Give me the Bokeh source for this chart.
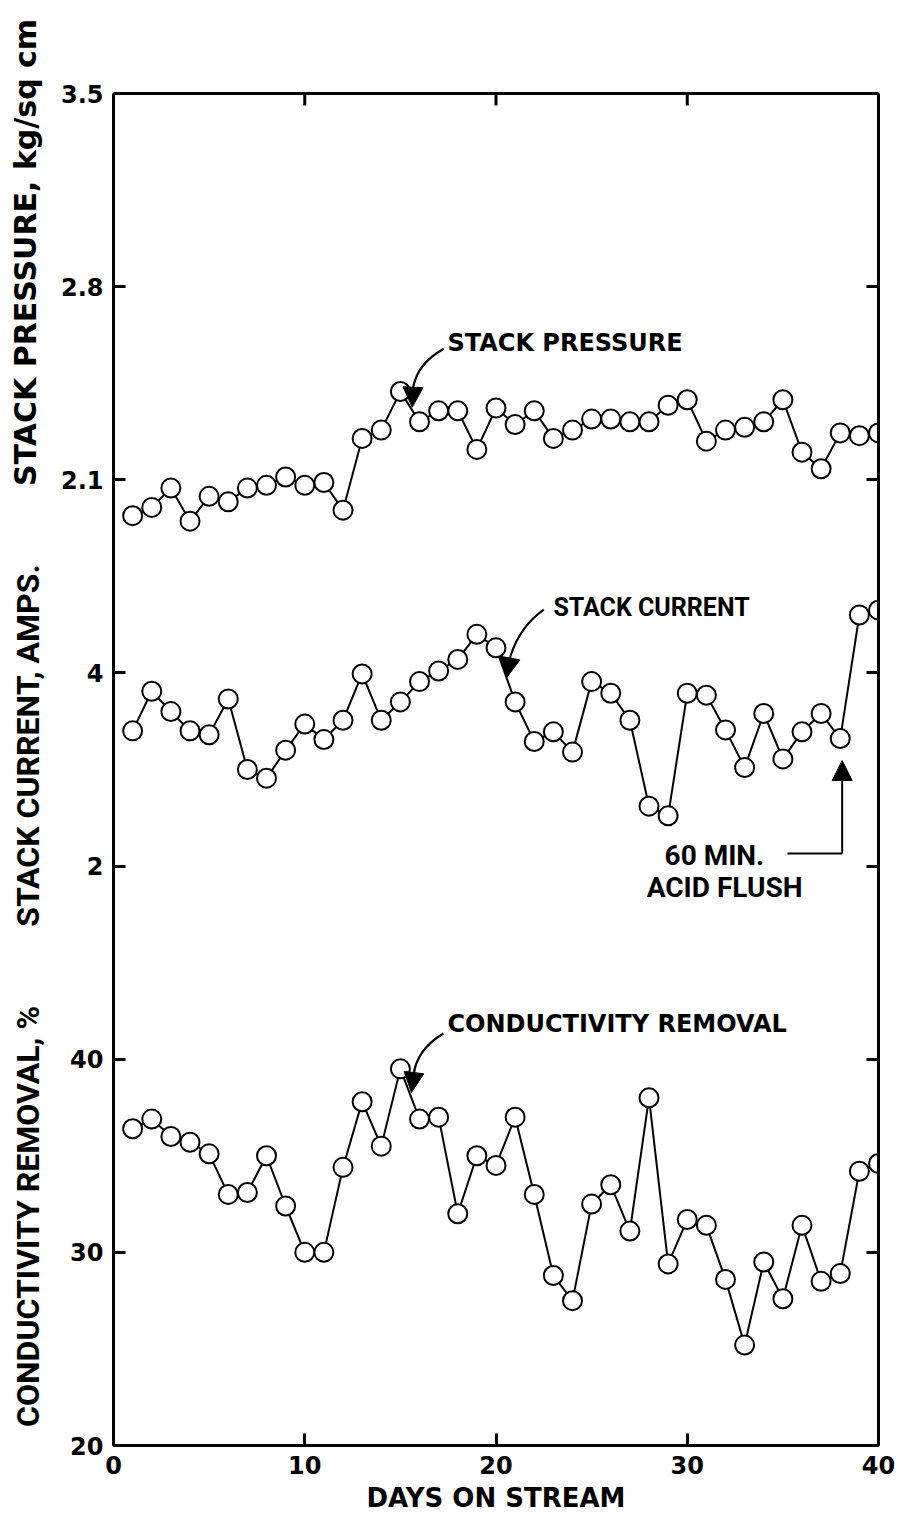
import math
from bokeh.plotting import figure
from bokeh.layouts import row
from bokeh.models import (Range1d, LinearAxis, FixedTicker, Label, Arrow, Span,
                          NormalHead, ColumnDataSource)
from bokeh.embed import file_html
from bokeh.resources import INLINE

# ---------------- data ----------------
days = list(range(1, 41))
stack_pressure = [1.97, 2.00, 2.07, 1.95, 2.04, 2.02, 2.07, 2.08, 2.11, 2.08,
                  2.09, 1.99, 2.25, 2.28, 2.42, 2.31, 2.35, 2.35, 2.21, 2.36,
                  2.30, 2.35, 2.25, 2.28, 2.32, 2.32, 2.31, 2.31, 2.37, 2.39,
                  2.24, 2.28, 2.29, 2.31, 2.39, 2.20, 2.14, 2.27, 2.26, 2.27]
stack_current = [3.40, 3.81, 3.60, 3.40, 3.36, 3.73, 3.00, 2.91, 3.20, 3.47,
                 3.31, 3.51, 3.99, 3.51, 3.70, 3.91, 4.02, 4.14, 4.40, 4.26,
                 3.70, 3.29, 3.39, 3.18, 3.91, 3.79, 3.51, 2.62, 2.52, 3.79,
                 3.77, 3.41, 3.02, 3.58, 3.11, 3.39, 3.58, 3.32, 4.60, 4.65]
conductivity_removal = [36.4, 36.9, 36.0, 35.7, 35.1, 33.0, 33.1, 35.0, 32.4, 30.0,
                        30.0, 34.4, 37.8, 35.5, 39.5, 36.9, 37.0, 32.0, 35.0, 34.5,
                        37.0, 33.0, 28.8, 27.5, 32.5, 33.5, 31.1, 38.0, 29.4, 31.7,
                        31.4, 28.6, 25.2, 29.5, 27.6, 31.4, 28.5, 28.9, 34.2, 34.6]

x_ticks = [0, 10, 20, 30, 40]
x_inner_ticks = [10, 20, 30]
pressure_ticks = [2.1, 2.8, 3.5]
pressure_tick_labels = ["2.1", "2.8", "3.5"]
current_ticks = [2, 4]
current_tick_labels = ["2", "4"]
conductivity_ticks = [20, 30, 40]
conductivity_tick_labels = ["20", "30", "40"]

# ---------------- layout constants ----------------
N_SLOTS = 7            # the box holds 7 equal tick steps
BOX_H = 1352           # height of the boxed area in px
TOP_PAD = 93           # blank strip above the box (part of the frame)
FRAME_H = BOX_H + TOP_PAD
BOT_B = 79
SIDE_W = 48
TOP_SLOT = N_SLOTS * FRAME_H / BOX_H
PX = N_SLOTS / BOX_H   # one pixel in slot units

# series scales: (value at bottom of box, value per slot step)
pressure_scale = (-1.4, 0.7)
current_scale = (-4.0, 2.0)
conductivity_scale = (20.0, 10.0)


def make_range(scale):
    lo, step = scale
    return Range1d(lo, lo + TOP_SLOT * step)


def slot(v, scale):
    lo, step = scale
    return round((v - lo) / step, 6)


FONT = "DejaVu Sans"
FONT2 = "Roboto"

p = figure(frame_width=765, frame_height=FRAME_H, title=None,
           min_border_left=113 - SIDE_W, min_border_right=25,
           min_border_top=0, min_border_bottom=BOT_B,
           x_range=Range1d(0, 40), y_range=Range1d(0, TOP_SLOT),
           x_axis_type=None, y_axis_type=None,
           output_backend="svg", toolbar_location=None,
           background_fill_color="white", border_fill_color="white")
p.outline_line_color = None
p.extra_y_ranges = {"pressure": make_range(pressure_scale),
                    "current": make_range(current_scale),
                    "cond": make_range(conductivity_scale)}

side = figure(frame_width=SIDE_W, frame_height=FRAME_H, title=None,
              min_border_left=0, min_border_right=0,
              min_border_top=0, min_border_bottom=BOT_B,
              x_range=Range1d(0, SIDE_W), y_range=Range1d(0, TOP_SLOT),
              x_axis_type=None, y_axis_type=None,
              output_backend="svg", toolbar_location=None,
              background_fill_color="white", border_fill_color="white")
side.outline_line_color = None

# ---------------- axes ----------------
y_tick_pos = ([slot(v, pressure_scale) for v in pressure_ticks] +
              [slot(v, current_scale) for v in current_ticks] +
              [slot(v, conductivity_scale) for v in conductivity_ticks])
y_tick_txt = pressure_tick_labels + current_tick_labels + conductivity_tick_labels
overrides = {pos: txt for pos, txt in zip(y_tick_pos, y_tick_txt)}


def style_axis(ax, show_labels):
    ax.axis_line_width = 3
    ax.axis_line_color = "black"
    ax.major_tick_in = 12
    ax.major_tick_out = 0
    ax.major_tick_line_width = 3
    ax.minor_tick_line_color = None
    ax.major_label_text_font = FONT
    ax.major_label_text_font_style = "bold"
    ax.major_label_text_font_size = "24px"
    ax.major_label_text_color = "black" if show_labels else None


left = LinearAxis(ticker=FixedTicker(ticks=y_tick_pos), major_label_overrides=overrides,
                  bounds=(0, N_SLOTS))
style_axis(left, True)
left.major_label_standoff = 10
p.add_layout(left, "left")

right = LinearAxis(ticker=FixedTicker(ticks=y_tick_pos), major_label_overrides=overrides,
                   bounds=(0, N_SLOTS))
style_axis(right, False)
p.add_layout(right, "right")

bottom = LinearAxis(ticker=FixedTicker(ticks=x_ticks), axis_label="DAYS ON STREAM")
style_axis(bottom, True)
bottom.major_label_standoff = 10
bottom.axis_label_text_font = FONT
bottom.axis_label_text_font_style = "bold"
bottom.axis_label_text_font_size = "26px"
bottom.axis_label_text_color = "black"
bottom.axis_label_standoff = 6
p.add_layout(bottom, "below")

# top edge of the box and its inward ticks
p.add_layout(Span(location=N_SLOTS, dimension="width", line_color="black", line_width=3))
p.segment(x0=x_inner_ticks, x1=x_inner_ticks, y0=[N_SLOTS] * len(x_inner_ticks),
          y1=[N_SLOTS - 12 * PX] * len(x_inner_ticks), line_color="black", line_width=3)

# ---------------- series ----------------
src = ColumnDataSource(dict(day=days, pressure=stack_pressure,
                            current=stack_current, cond=conductivity_removal))
for col in ("pressure", "current", "cond"):
    p.line("day", col, source=src, y_range_name=col, line_color="black", line_width=2)
    p.scatter("day", col, source=src, y_range_name=col, marker="circle", size=19,
              fill_color="white", line_color="black", line_width=2)

# ---------------- axis titles (vertical, in slot units) ----------------
def vtitle(text, x, y, size, font):
    side.add_layout(Label(x=x, y=y, text=text, angle=math.pi / 2,
                          text_align="center", text_baseline="middle",
                          text_font=font, text_font_style="bold",
                          text_font_size=size, text_color="black"))


vtitle("STACK PRESSURE, kg/sq cm", 25, 6.177, "30px", FONT)
vtitle("STACK CURRENT, AMPS.", 27, 3.624, "32px", FONT2)
vtitle("CONDUCTIVITY REMOVAL, %", 27, 1.186, "32px", FONT2)

# ---------------- annotations ----------------
def note(text, x, y, rname, size="24px", align="left", font=FONT):
    p.add_layout(Label(x=x, y=y, y_range_name=rname, text=text,
                       text_align=align, text_baseline="middle",
                       text_font=font, text_font_style="bold",
                       text_font_size=size, text_color="black"))


def arrow(x0, y0, x1, y1, rname, head=True):
    end = NormalHead(size=20, fill_color="black", line_color="black") if head else None
    p.add_layout(Arrow(end=end, x_start=x0, y_start=y0, x_end=x1, y_end=y1,
                       y_range_name=rname, line_color="black", line_width=2))


def curved_arrow(pts, rname):
    # pts: start, control0, control1, bend end, arrow tip
    (x0, y0), (cx0, cy0), (cx1, cy1), (x1, y1), (xt, yt) = pts
    p.bezier(x0=[x0], y0=[y0], x1=[x1], y1=[y1], cx0=[cx0], cy0=[cy0],
             cx1=[cx1], cy1=[cy1], y_range_name=rname, line_color="black", line_width=2.2)
    arrow(x1, y1, xt, yt, rname)


note("STACK PRESSURE", 17.46, 2.594, "pressure", "24px")
curved_arrow([(17.27, 2.575), (16.37, 2.540), (15.79, 2.489), (15.66, 2.431), (15.62, 2.363)],
             "pressure")

note("STACK CURRENT", 23.0, 4.678, "current", "25px", font=FONT2)
curved_arrow([(22.50, 4.656), (21.54, 4.522), (21.02, 4.336), (20.76, 4.178), (20.55, 3.950)],
             "current")

note("60 MIN.", 31.42, 2.109, "current", "28px", "center", FONT2)
note("ACID FLUSH", 31.95, 1.778, "current", "28px", "center", FONT2)
arrow(35.24, 2.13, 38.1, 2.13, "current", head=False)
arrow(38.1, 2.13, 38.1, 3.093, "current")

note("CONDUCTIVITY REMOVAL", 17.46, 41.8, "cond", "24px")
curved_arrow([(17.25, 41.33), (16.37, 40.81), (15.79, 40.04), (15.69, 39.16), (15.58, 38.28)],
             "cond")

open("out.html", "w").write(file_html(row(side, p), INLINE))
